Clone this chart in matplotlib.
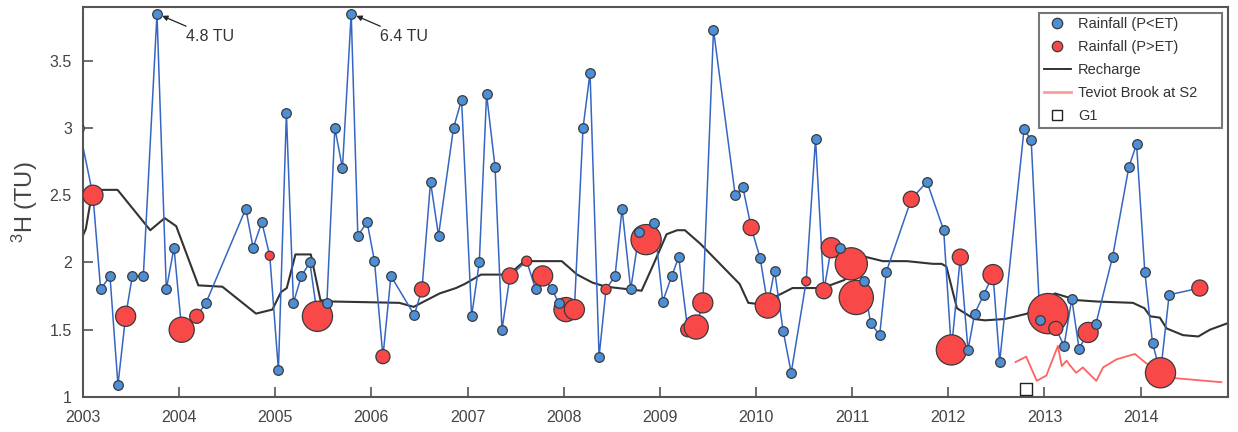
import numpy as np
import matplotlib
matplotlib.use("Agg")
import matplotlib.pyplot as plt
from matplotlib.lines import Line2D

plt.rcParams['font.family'] = ['Liberation Sans', 'DejaVu Sans']
plt.rcParams['mathtext.fontset'] = 'custom'
plt.rcParams['mathtext.rm'] = 'Liberation Sans'
plt.rcParams['mathtext.it'] = 'Liberation Sans:italic'

# ---------------- data ----------------
# All rainfall samples in time order: decimal year, tritium (TU), class ('lo' = P<ET, 'hi' = P>ET)
rain_year = [2002.96, 2003.104, 2003.184, 2003.281, 2003.364, 2003.444, 2003.513, 2003.628, 2003.770,
             2003.867, 2003.947, 2004.027, 2004.183, 2004.280, 2004.694, 2004.770, 2004.860, 2004.943,
             2005.033, 2005.116, 2005.189, 2005.272, 2005.360, 2005.439, 2005.537, 2005.620, 2005.699,
             2005.790, 2005.859, 2005.956, 2006.032, 2006.120, 2006.203, 2006.446, 2006.526, 2006.615,
             2006.698, 2006.854, 2006.938, 2007.042, 2007.122, 2007.198, 2007.286, 2007.358, 2007.442,
             2007.615, 2007.709, 2007.781, 2007.879, 2007.947, 2008.024, 2008.111, 2008.201, 2008.274,
             2008.368, 2008.440, 2008.534, 2008.607, 2008.697, 2008.787, 2008.857, 2008.943, 2009.030,
             2009.124, 2009.196, 2009.290, 2009.378, 2009.447, 2009.558, 2009.784, 2009.863, 2009.950,
             2010.044, 2010.123, 2010.193, 2010.283, 2010.366, 2010.522, 2010.619, 2010.706, 2010.783,
             2010.874, 2010.991, 2011.043, 2011.119, 2011.192, 2011.286, 2011.355, 2011.615, 2011.778,
             2011.952, 2012.032, 2012.125, 2012.205, 2012.274, 2012.368, 2012.465, 2012.534, 2012.788,
             2012.862, 2012.954, 2013.038, 2013.118, 2013.204, 2013.284, 2013.360, 2013.454, 2013.534,
             2013.708, 2013.878, 2013.958, 2014.044, 2014.124, 2014.207, 2014.297, 2014.616]
rain_tu = [3.00, 2.50, 1.80, 1.90, 1.09, 1.60, 1.90, 1.90, 4.80,
           1.80, 2.11, 1.50, 1.60, 1.70, 2.40, 2.11, 2.30, 2.05,
           1.20, 3.11, 1.70, 1.90, 2.00, 1.60, 1.70, 3.00, 2.70,
           6.40, 2.20, 2.30, 2.01, 1.30, 1.90, 1.61, 1.80, 2.60,
           2.20, 3.00, 3.21, 1.60, 2.00, 3.25, 2.71, 1.50, 1.90,
           2.01, 1.80, 1.90, 1.80, 1.70, 1.65, 1.65, 3.00, 3.41,
           1.30, 1.80, 1.90, 2.40, 1.80, 2.23, 2.17, 2.29, 1.71,
           1.90, 2.04, 1.50, 1.52, 1.70, 3.73, 2.50, 2.56, 2.26,
           2.03, 1.68, 1.94, 1.49, 1.18, 1.86, 2.92, 1.79, 2.11,
           2.11, 1.99, 1.74, 1.86, 1.55, 1.46, 1.93, 2.47, 2.60,
           2.24, 1.35, 2.04, 1.35, 1.62, 1.76, 1.91, 1.26, 2.99,
           2.91, 1.57, 1.62, 1.51, 1.38, 1.73, 1.36, 1.48, 1.54,
           2.04, 2.71, 2.88, 1.93, 1.40, 1.18, 1.76, 1.81]
rain_class = ['lo', 'hi', 'lo', 'lo', 'lo', 'hi', 'lo', 'lo', 'lo',
              'lo', 'lo', 'hi', 'hi', 'lo', 'lo', 'lo', 'lo', 'hi',
              'lo', 'lo', 'lo', 'lo', 'lo', 'hi', 'lo', 'lo', 'lo',
              'lo', 'lo', 'lo', 'lo', 'hi', 'lo', 'lo', 'hi', 'lo',
              'lo', 'lo', 'lo', 'lo', 'lo', 'lo', 'lo', 'lo', 'hi',
              'hi', 'lo', 'hi', 'lo', 'lo', 'hi', 'hi', 'lo', 'lo',
              'lo', 'hi', 'lo', 'lo', 'lo', 'lo', 'hi', 'lo', 'lo',
              'lo', 'lo', 'hi', 'hi', 'hi', 'lo', 'lo', 'lo', 'hi',
              'lo', 'hi', 'lo', 'lo', 'lo', 'hi', 'lo', 'hi', 'hi',
              'lo', 'hi', 'hi', 'lo', 'lo', 'lo', 'lo', 'hi', 'lo',
              'lo', 'hi', 'hi', 'lo', 'lo', 'lo', 'hi', 'lo', 'lo',
              'lo', 'lo', 'hi', 'hi', 'lo', 'lo', 'lo', 'hi', 'lo',
              'lo', 'lo', 'lo', 'lo', 'lo', 'hi', 'lo', 'hi']
# relative recharge weight of P>ET samples (in time order of the 'hi' samples)
hi_weight = [10, 10, 12.5, 7, 4.5, 15, 7, 7.5, 8, 5, 10, 12, 10, 5, 15, 7, 12, 10,
             8, 12.5, 4.5, 8, 10, 16, 17, 8, 15, 8, 10, 20, 7, 10, 15, 8]

recharge_year = [2003.00, 2003.03, 2003.10, 2003.36, 2003.70, 2003.85, 2003.97, 2004.20, 2004.45,
                 2004.80, 2004.97, 2005.06, 2005.12, 2005.21, 2005.37, 2005.47, 2005.59, 2006.29,
                 2006.44, 2006.52, 2006.71, 2006.88, 2006.97, 2007.14, 2007.43, 2007.59, 2007.98,
                 2008.14, 2008.30, 2008.44, 2008.81, 2008.93, 2009.07, 2009.18, 2009.26, 2009.42,
                 2009.83, 2009.92, 2010.04, 2010.27, 2010.38, 2010.69, 2010.92, 2011.04, 2011.15,
                 2011.32, 2011.57, 2011.84, 2011.93, 2011.98, 2012.09, 2012.27, 2012.38, 2012.59,
                 2012.82, 2013.00, 2013.11, 2013.34, 2013.54, 2013.92, 2014.04, 2014.10, 2014.20,
                 2014.27, 2014.44, 2014.60, 2014.72, 2014.91]
recharge_tu = [2.20, 2.25, 2.54, 2.54, 2.24, 2.33, 2.27, 1.83, 1.82,
               1.62, 1.65, 1.78, 1.81, 2.06, 2.06, 1.72, 1.71, 1.70,
               1.67, 1.70, 1.77, 1.81, 1.84, 1.91, 1.91, 2.01, 2.01,
               1.91, 1.85, 1.82, 1.79, 1.98, 2.21, 2.24, 2.24, 2.14,
               1.84, 1.70, 1.69, 1.77, 1.81, 1.81, 1.87, 1.99, 2.04,
               2.01, 2.01, 1.99, 1.99, 1.97, 1.66, 1.58, 1.57, 1.58,
               1.62, 1.72, 1.77, 1.72, 1.71, 1.70, 1.66, 1.60, 1.59,
               1.51, 1.46, 1.45, 1.50, 1.55]

teviot_year = [2012.70, 2012.81, 2012.92, 2013.02, 2013.14, 2013.18, 2013.23, 2013.26, 2013.33,
               2013.40, 2013.44, 2013.54, 2013.61, 2013.75, 2013.94, 2014.06, 2014.36, 2014.84]
teviot_tu = [1.26, 1.30, 1.12, 1.16, 1.38, 1.23, 1.27, 1.24, 1.18,
             1.22, 1.19, 1.12, 1.22, 1.28, 1.32, 1.25, 1.14, 1.11]

g1_year = [2012.81]
g1_tu = [1.06]

year_ticks = list(range(2003, 2015))
y_ticks = [1, 1.5, 2, 2.5, 3, 3.5]
y_ticklabels = ['1', '1.5', '2', '2.5', '3', '3.5']
y_cap = 3.85   # off-scale samples are drawn at the top and annotated

# ---------------- plot ----------------
fig = plt.figure(figsize=(12.38, 4.32), dpi=100)
ax = fig.add_axes([0.067, 0.081, 0.925, 0.903])

ry = np.array(rain_year)
rt = np.array(rain_tu)
rshow = np.minimum(rt, y_cap)
rc = np.array(rain_class)
lo = rc == 'lo'
hi = rc == 'hi'

blue_face = '#4d8fd6'
red_face = '#f94848'
edge = '#3a3a3a'

ax.plot(ry, rshow, color='#3566c4', lw=1.1, zorder=2)
ax.plot(recharge_year, recharge_tu, color='#333333', lw=1.5, zorder=1.5)
ax.plot(teviot_year, teviot_tu, color='#ff6262', lw=1.3, zorder=1.5)
ax.scatter(ry[hi], rshow[hi], s=2.1 * np.array(hi_weight) ** 2, color=red_face,
           edgecolor=edge, linewidth=0.9, zorder=3)
ax.scatter(ry[lo], rshow[lo], s=48, color=blue_face, edgecolor=edge, linewidth=0.9, zorder=4)
ax.scatter(g1_year, g1_tu, s=75, marker='s', facecolor='white', edgecolor='#222222',
           linewidth=1.0, zorder=4)

# annotations for the off-scale samples
for yr, v in zip(ry[rt > y_cap], rt[rt > y_cap]):
    ax.annotate(f'{v:.1f} TU', xy=(yr, y_cap), xytext=(yr + 0.30, 3.68),
                fontsize=11.5, color='#333333', va='center', ha='left',
                arrowprops=dict(arrowstyle='-|>', color='#222222', lw=0.9,
                                mutation_scale=8, shrinkA=0, shrinkB=4))

ax.set_xlim(2003.0, 2014.91)
ax.set_ylim(1.0, 3.9)
ax.set_xticks(year_ticks)
ax.set_xticklabels([str(y) for y in year_ticks])
ax.set_yticks(y_ticks)
ax.set_yticklabels(y_ticklabels)
ax.tick_params(direction='in', length=7, width=1.2, colors='#555555', labelcolor='#444444',
               labelsize=11.5, pad=8)
ax.tick_params(axis='x', pad=9.5)
for sp in ax.spines.values():
    sp.set_color('#555555')
    sp.set_linewidth(1.5)
ax.set_ylabel(r'$\mathregular{^3}$H (TU)', fontsize=17, color='#444444', labelpad=7)

handles = [
    Line2D([], [], ls='none', marker='o', ms=7.5, mfc=blue_face, mec=edge, mew=0.9),
    Line2D([], [], ls='none', marker='o', ms=7.5, mfc=red_face, mec=edge, mew=0.9),
    Line2D([], [], color='#222222', lw=1.3),
    Line2D([], [], color='#ff9a9a', lw=2.0),
    Line2D([], [], ls='none', marker='s', ms=6.5, mfc='white', mec='#222222', mew=1.0),
]
labels = ['Rainfall (P<ET)', 'Rainfall (P>ET)', 'Recharge', 'Teviot Brook at S2', 'G1']
# legend frame spans a fixed box in axes coordinates (text left-aligned, spare room on the right)
leg = ax.legend(handles, labels, loc='upper right', bbox_to_anchor=(0.835, 0.5, 0.1597, 0.4846),
                mode='expand', fontsize=10.5, frameon=True, fancybox=False,
                edgecolor='#555555', handlelength=1.85, borderaxespad=0.0, labelspacing=0.62,
                borderpad=0.3, handletextpad=0.5)
leg.get_frame().set_linewidth(1.5)
for t in leg.get_texts():
    t.set_color('#333333')

fig.savefig('out.png', dpi=100)
